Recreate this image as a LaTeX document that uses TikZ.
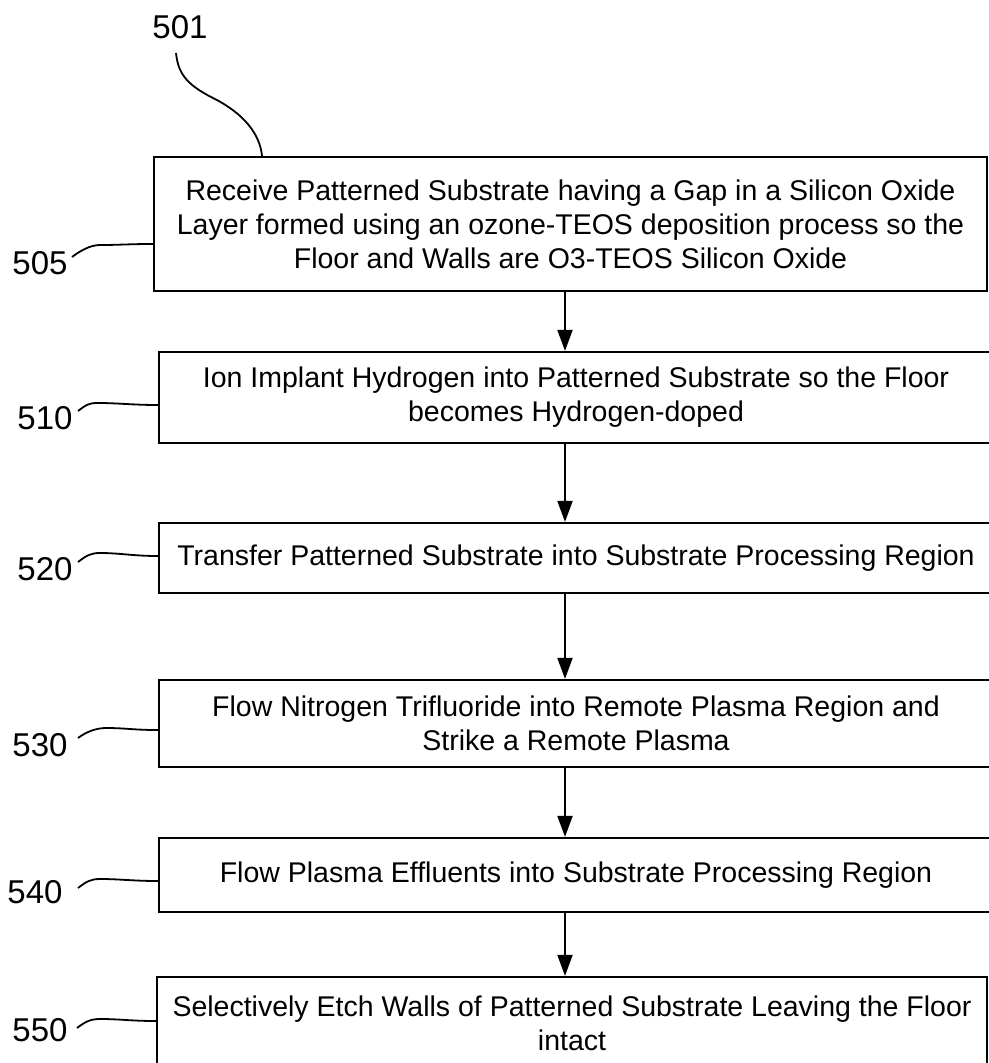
\documentclass[tikz,border=0pt]{standalone}
\usepackage{fontspec}
\setmainfont{Liberation Sans}
\usetikzlibrary{arrows.meta}
\begin{document}
\begin{tikzpicture}[x=1bp,y=-1bp,
  stepbox/.style={draw, line width=2.2bp, inner sep=0pt, align=center, font=\fontsize{28.5bp}{34bp}\selectfont},
  ref/.style={inner sep=0pt, font=\fontsize{33bp}{33bp}\selectfont},
  lead/.style={line width=1.8bp},
  arr/.style={line width=2bp, -{Triangle[length=21bp,width=15bp]}}
]
\useasboundingbox (0,0) rectangle (989,1063);
\clip (0,0) rectangle (989,1063);

% boxes
\node[stepbox, minimum width=833bp, minimum height=134bp] (b1) at (570.5,224)
  {Receive Patterned Substrate having a Gap in a Silicon Oxide\\Layer formed using an ozone-TEOS deposition process so the\\Floor and Walls are O3-TEOS Silicon Oxide};
\node[stepbox, minimum width=834bp, minimum height=91bp] (b2) at (576,397.5)
  {Ion Implant Hydrogen into Patterned Substrate so the Floor\\becomes Hydrogen-doped};
\node[stepbox, minimum width=834bp, minimum height=70bp] (b3) at (576,558)
  {Transfer Patterned Substrate into Substrate Processing Region};
\node[stepbox, minimum width=834bp, minimum height=87bp] (b4) at (576,723.5)
  {Flow Nitrogen Trifluoride into Remote Plasma Region and\\Strike a Remote Plasma};
\node[stepbox, minimum width=834bp, minimum height=74bp] (b5) at (576,875)
  {Flow Plasma Effluents into Substrate Processing Region};
\node[stepbox, minimum width=830bp, minimum height=92bp] (b6) at (572,1023)
  {Selectively Etch Walls of Patterned Substrate Leaving the Floor\\intact};

% arrows
\coordinate (ax) at (565,0);
\draw[arr] (b1.south -| ax) -- (b2.north -| ax);
\draw[arr] (b2.south -| ax) -- (b3.north -| ax);
\draw[arr] (b3.south -| ax) -- (b4.north -| ax);
\draw[arr] (b4.south -| ax) -- (b5.north -| ax);
\draw[arr] (b5.south -| ax) -- (b6.north -| ax);

% reference labels
\node[ref] (l501) at (180,27) {501};
\node[ref] (l505) at (40,263) {505};
\node[ref] (l510) at (45,418) {510};
\node[ref] (l520) at (45,569) {520};
\node[ref] (l530) at (40,745) {530};
\node[ref] (l540) at (35,892) {540};
\node[ref] (l550) at (40,1030) {550};

% leader lines
\coordinate (s501) at (176,53);
\coordinate (e501) at (262,0);
\draw[lead] (s501) .. controls (178,72) and (185,84) .. (213,98)
  .. controls (245,114) and (260,135) .. (b1.north -| e501);

\coordinate (s505) at (72,257); \coordinate (h505) at (100,245); \coordinate (e505) at (0,244);
\draw[lead] (s505) .. controls +(8,-6) and +(-10,0) .. (h505) .. controls +(20,0) and +(-25,0) .. (b1.west |- e505);

\coordinate (s510) at (78,411); \coordinate (h510) at (98,403); \coordinate (e510) at (0,405);
\draw[lead] (s510) .. controls +(8,-6) and +(-10,0) .. (h510) .. controls +(20,0) and +(-25,0) .. (b2.west |- e510);

\coordinate (s520) at (78,562); \coordinate (h520) at (100,553); \coordinate (e520) at (0,556);
\draw[lead] (s520) .. controls +(8,-6) and +(-10,0) .. (h520) .. controls +(20,0) and +(-25,0) .. (b3.west |- e520);

\coordinate (s530) at (78,738); \coordinate (h530) at (106,728); \coordinate (e530) at (0,730);
\draw[lead] (s530) .. controls +(8,-6) and +(-10,0) .. (h530) .. controls +(20,0) and +(-25,0) .. (b4.west |- e530);

\coordinate (s540) at (78,888); \coordinate (h540) at (100,879); \coordinate (e540) at (0,881);
\draw[lead] (s540) .. controls +(8,-6) and +(-10,0) .. (h540) .. controls +(20,0) and +(-25,0) .. (b5.west |- e540);

\coordinate (s550) at (77,1028); \coordinate (h550) at (100,1019); \coordinate (e550) at (0,1021);
\draw[lead] (s550) .. controls +(8,-6) and +(-10,0) .. (h550) .. controls +(20,0) and +(-25,0) .. (b6.west |- e550);
\end{tikzpicture}
\end{document}
